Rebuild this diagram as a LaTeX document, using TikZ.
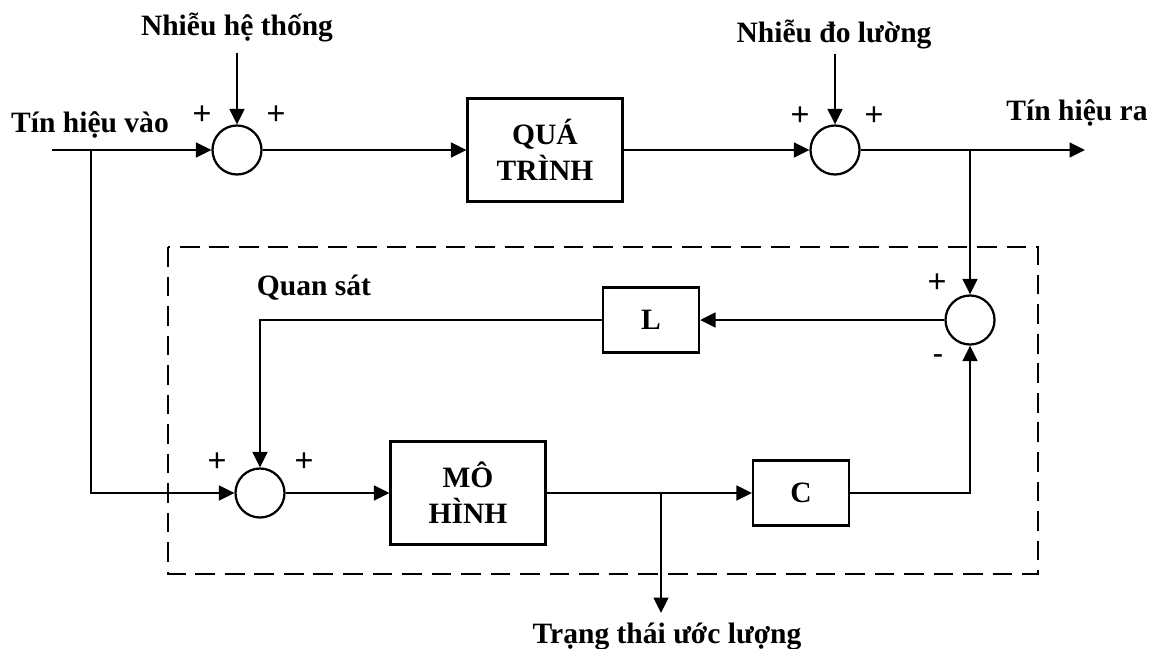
\documentclass[tikz,border=0pt]{standalone}
\usepackage{fontspec}
\setmainfont{Liberation Serif}
\newfontfamily\plusfont{Liberation Sans}
\usetikzlibrary{arrows.meta}
\begin{document}
\begin{tikzpicture}[x=0.025cm,y=-0.025cm,
  line width=1.6pt,
  >={Triangle[length=11pt,width=10.5pt]},
  lbl/.style={font=\fontsize{21}{25.6}\selectfont\bfseries, inner sep=0pt},
  sgn/.style={font=\plusfont\fontsize{23}{26}\selectfont, inner sep=0pt},
  blk/.style={draw, line width=1.6pt, font=\fontsize{21}{25.6}\selectfont\bfseries, align=center, inner sep=0pt},
  blkbig/.style={blk, minimum width=3.875cm, minimum height=2.575cm},
  blksmall/.style={blk, minimum width=2.4cm, minimum height=1.625cm},
  sumnode/.style={draw, circle, line width=1.6pt, minimum size=1.225cm, inner sep=0pt},
  framebox/.style={line width=1.6pt, dash pattern=on 14pt off 7pt}]
\path[use as bounding box] (0,0) rectangle (1154,649);

% dashed observer frame
\draw[framebox] (168,247) rectangle (1038,574);

% summing junctions
\node[sumnode] (s1) at (237,150) {};
\node[sumnode] (s2) at (835,150) {};
\node[sumnode] (s3) at (970,320) {};
\node[sumnode] (s4) at (260,493) {};

% blocks
\node[blkbig] (qt) at (545,150) {QUÁ\\TRÌNH};
\node[blkbig] (mh) at (468,493) {MÔ\\HÌNH};
\node[blksmall] (L) at (651,320) {L};
\node[blksmall] (C) at (801,493) {C};

% labels
\node[lbl, anchor=base] (nht) at (237,36) {Nhiễu hệ thống};
\node[lbl, anchor=base] (ndl) at (834,43) {Nhiễu đo lường};
\node[lbl, anchor=base] (tin) at (90,133) {Tín hiệu vào};
\node[lbl, anchor=base] (tout) at (1077,121) {Tín hiệu ra};
\node[lbl, anchor=base] (qs) at (314,295) {Quan sát};
\node[lbl, anchor=base] (tt) at (667,643) {Trạng thái ước lượng};

% signs
\node[sgn] (p1) at (202,115) {+};
\node[sgn] (p2) at (276,115) {+};
\node[sgn] (p3) at (800,116) {+};
\node[sgn] (p4) at (874,116) {+};
\node[sgn] (p5) at (937,283) {+};
\node[sgn] (m5) at (938,360) {-};
\node[sgn] (p6) at (217,462) {+};
\node[sgn] (p7) at (304,462) {+};

% free-end coordinates
\coordinate (in) at (52,150);
\coordinate (br1) at (91,150);
\coordinate (out) at (1085,150);
\coordinate (br2) at (970,150);
\coordinate (br3) at (661,493);
\coordinate (est) at (661,613);
\coordinate (d1) at (237,53);
\coordinate (d2) at (835,54);

% connectors
\draw[->] (in) -- (s1.west);
\draw[->] (d1) -- (s1.north);
\draw[->] (s1.east) -- (qt.west);
\draw[->] (qt.east) -- (s2.west);
\draw[->] (d2) -- (s2.north);
\draw[->] (s2.east) -- (out);
\draw[->] (br2) -- (s3.north);
\draw[->] (s3.west) -- (L.east);
\draw[->] (L.west) -| (s4.north);
\draw[->] (br1) |- (s4.west);
\draw[->] (s4.east) -- (mh.west);
\draw[->] (mh.east) -- (C.west);
\draw[->] (br3) -- (est);
\draw[->] (C.east) -| (s3.south);
\end{tikzpicture}
\end{document}
